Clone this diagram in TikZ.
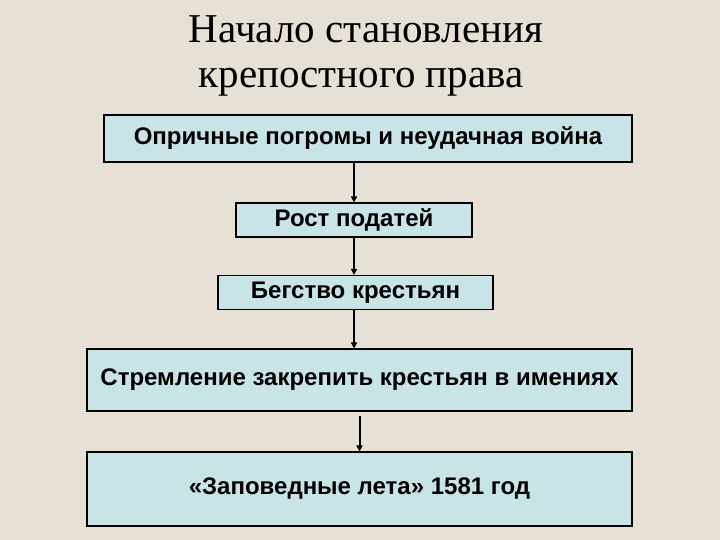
\documentclass[tikz,border=0pt]{standalone}
\usepackage{fontspec}
\setmainfont{Liberation Serif}
\newfontfamily\boxfont{Liberation Sans}
\usetikzlibrary{positioning,arrows.meta}
\definecolor{PaperBeige}{RGB}{231,224,214}
\definecolor{BoxBlue}{RGB}{201,228,230}

\begin{document}
\begin{tikzpicture}[x=1pt,y=-1pt,
                % kiểu khung
                stepbox/.style={draw=black, line width=1.1pt, fill=BoxBlue, inner sep=0pt,
                    font=\boxfont\bfseries\fontsize{24}{28}\selectfont},
                titletext/.style={font=\fontsize{41}{44}\selectfont, anchor=base},
                arrow/.style={-{Triangle[length=6pt,width=6pt]}, draw=black, line width=2pt}
            ]
                % nền
                \fill[PaperBeige] (0,0) rectangle (720,540);
                \useasboundingbox (0,0) rectangle (720,540);
                % tiêu đề
                \node[titletext] (title) at (366,43) {Начало становления};
                \node[titletext] (title2) at (361,88) {крепостного права};
                % khung
                \node[stepbox, minimum width=528pt, minimum height=47pt] (B1) at (368,138.5)
                    {Опричные погромы и неудачная война};
                \node[stepbox, minimum width=236pt, minimum height=34pt] (B2) at (354,220)
                    {Рост податей};
                \node[stepbox, minimum width=275pt, minimum height=34pt] (B3) at (355.5,292.5)
                    {Бегство крестьян};
                \node[stepbox, minimum width=545pt, minimum height=62pt] (B4) at (359.5,380)
                    {Стремление закрепить крестьян в имениях};
                \node[stepbox, minimum width=545pt, minimum height=74pt] (B5) at (359.5,489)
                    {«Заповедные лета» 1581 год};

                % mũi tên
                \draw[arrow] (B1.south -| B2.north) -- (B2.north);
                \draw[arrow] (B2.south) -- (B2.south |- B3.north);
                \draw[arrow] (B2.south |- B3.south) -- (B2.south |- B4.north);
                \draw[arrow, shorten <=4pt] (B5.north |- B4.south) -- (B5.north);

            \end{tikzpicture}
\end{document}
